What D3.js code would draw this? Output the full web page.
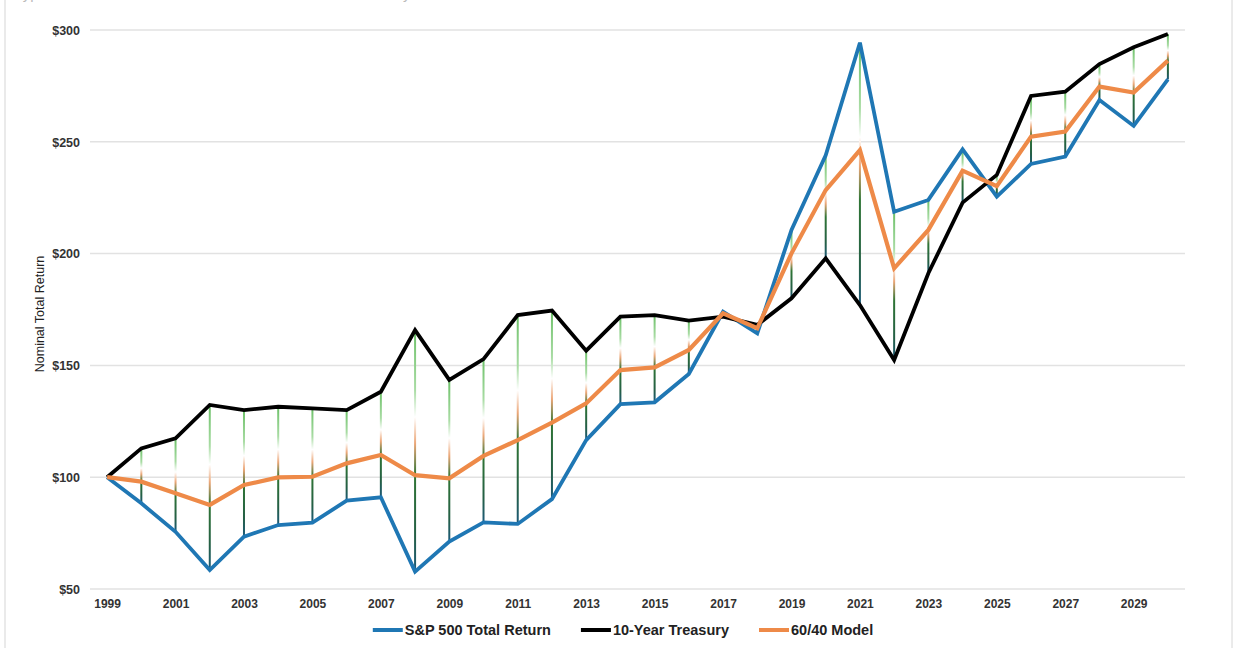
<!DOCTYPE html>
<html>
<head>
<meta charset="utf-8">
<script src="https://cdn.jsdelivr.net/npm/d3@7"></script>
<style>
	body { margin: 0; background: #fff; }
	svg { display: block; font-family: "Liberation Sans", Arial, sans-serif; }
</style>
</head>
<body>
<svg id="chartSVG" width="1234" height="648"></svg>
<script>
var years = [1999, 2000, 2001, 2002, 2003, 2004, 2005, 2006, 2007, 2008, 2009, 2010,
			 2011, 2012, 2013, 2014, 2015, 2016, 2017, 2018, 2019, 2020, 2021, 2022,
			 2023, 2024, 2025, 2026, 2027, 2028, 2029, 2030];
var sp500 = [100, 88.3, 75.6, 58.5, 73.4, 78.6, 79.7, 89.5, 91.0, 57.8, 71.2, 79.8,
			 79.1, 90.2, 116.6, 132.7, 133.5, 146.2, 174, 164.3, 210.6, 244, 294.3, 218.7,
			 224, 246.6, 225.5, 240.1, 243.4, 268.7, 257.1, 277.9];
var treasury = [100, 112.9, 117.4, 132.3, 130.0, 131.5, 130.8, 130, 138.2, 165.8, 143.5, 152.8,
				172.5, 174.5, 156.6, 171.8, 172.5, 170, 171.8, 168.1, 180, 197.9, 177, 152.4,
				191.2, 222.8, 235.2, 270.5, 272.4, 284.8, 292.3, 298.2];
var model6040 = [100, 98, 92.8, 87.6, 96.5, 99.9, 100.2, 106.2, 109.9, 100.9, 99.5, 109.5,
				 116.6, 124.4, 133, 147.9, 149.1, 156.9, 173.3, 166.6, 200.1, 228.4, 246.3, 193.4,
				 210.6, 237.1, 230.2, 252.3, 254.6, 274.7, 272, 286.3];
var yTicks = [50, 100, 150, 200, 250, 300];
var seriesNames = ["S&P 500 Total Return", "10-Year Treasury", "60/40 Model"];
var seriesColors = ["#1f77b4", "#000000", "#ee8a48"];

drawChart();

function drawChart(){
	var svg = d3.select("#chartSVG");
	var left = 90, right = 1185, top = 30, bottom = 589;

	// frame + title strip cut by the top edge (as in the source image)
	svg.append('rect')
		.attr('x', 5).attr('y', -2).attr('width', 1227).attr('height', 652)
		.attr('fill', "none").attr('stroke', "#e4e4e4").attr('stroke-width', 1.5);
	svg.append('text')
		.attr('x', 12).attr('y', -1)
		.attr('fill', "#bbb").style('font-size', "15px")
		.text("Hypothetical Growth of $100: S&P 500 vs. 10-Year Treasury vs. 60/40 Model");
	svg.append('text')
		.attr('x', 1188).attr('y', -1).attr('text-anchor', "end")
		.attr('fill', "#bbb").style('font-size', "15px")
		.text("\u25CF  Notes");

	var x = d3.scalePoint().domain(years).range([left, right]).padding(0.5);
	var y = d3.scaleLinear().domain([50, 300]).range([bottom, top]);

	// gridlines
	svg.append('g').selectAll('line').data(yTicks).enter().append('line')
		.attr('x1', left).attr('x2', right)
		.attr('y1', function(d){ return y(d); }).attr('y2', function(d){ return y(d); })
		.attr('stroke', "#e2e2e2").attr('stroke-width', 1.5);

	// y axis labels
	var yAxis = d3.axisLeft(y).tickValues(yTicks).tickSize(0).tickPadding(10)
		.tickFormat(function(d){ return "$" + d; });
	var gy = svg.append('g').attr('transform', "translate(" + (left) + ",0)").call(yAxis);
	gy.select('.domain').remove();
	gy.selectAll('text')
		.style('font-size', "12.5px").style('font-weight', "bold")
		.attr('fill', "#333").attr('dy', "0.35em");

	// x axis labels, every other year
	var xAxis = d3.axisBottom(x).tickSize(0).tickPadding(10)
		.tickFormat(function(d){ return (d - 1999) % 2 == 0 ? d : ""; });
	var gx = svg.append('g').attr('transform', "translate(0," + bottom + ")").call(xAxis);
	gx.select('.domain').remove();
	gx.selectAll('text')
		.style('font-size', "12px").style('font-weight', "bold").attr('fill', "#333");

	svg.append('text')
		.attr('transform', "translate(44," + 314 + ") rotate(-90)")
		.attr('text-anchor', "middle")
		.style('font-size', "12.5px").attr('fill', "#222")
		.text("Nominal Total Return");

	// high-low lines with gradient
	var grad = svg.append('defs').append('linearGradient')
		.attr('id', "hlGrad").attr('x1', 0).attr('y1', 0).attr('x2', 0).attr('y2', 1);
	var stops = [[0, "#6cc068"], [0.25, "#a9dca4"], [0.36, "#ffffff"], [0.47, "#eba677"],
				 [0.6, "#2f7535"], [0.85, "#245f45"], [1, "#1d5a7a"]];
	for (var s = 0; s < stops.length; s++) {
		grad.append('stop').attr('offset', stops[s][0]).attr('stop-color', stops[s][1]);
	}

	var hl = svg.append('g');
	for (var i = 0; i < years.length; i++) {
		var hi = Math.max(sp500[i], treasury[i], model6040[i]);
		var lo = Math.min(sp500[i], treasury[i], model6040[i]);
		if (y(lo) - y(hi) < 1) continue;
		hl.append('rect')
			.attr('x', x(years[i]) - 1).attr('width', 2)
			.attr('y', y(hi)).attr('height', y(lo) - y(hi))
			.attr('fill', "url(#hlGrad)");
	}

	// series lines
	var allSeries = [sp500, treasury, model6040];
	var line = d3.line()
		.x(function(d, i){ return x(years[i]); })
		.y(function(d){ return y(d); });
	for (var k = 0; k < allSeries.length; k++) {
		svg.append('path')
			.attr('d', line(allSeries[k]))
			.attr('fill', "none")
			.attr('stroke', seriesColors[k])
			.attr('stroke-width', k == 2 ? 4.2 : 3.8)
			.attr('stroke-linejoin', "miter");
	}

	// legend
	var legend = svg.append('g');
	var lx = 0;
	for (var j = 0; j < seriesNames.length; j++) {
		legend.append('line')
			.attr('x1', lx).attr('x2', lx + 30).attr('y1', 0).attr('y2', 0)
			.attr('stroke', seriesColors[j]).attr('stroke-width', 4);
		var t = legend.append('text')
			.attr('x', lx + 32).attr('y', 0).attr('dy', "0.35em")
			.style('font-size', "14.5px").style('font-weight', "bold").attr('fill', "#222")
			.text(seriesNames[j]);
		lx += 32 + t.node().getComputedTextLength() + 30;
	}
	lx -= 30;
	legend.attr('transform', "translate(" + (623 - lx / 2) + ",630)");
}
</script>
</body>
</html>
